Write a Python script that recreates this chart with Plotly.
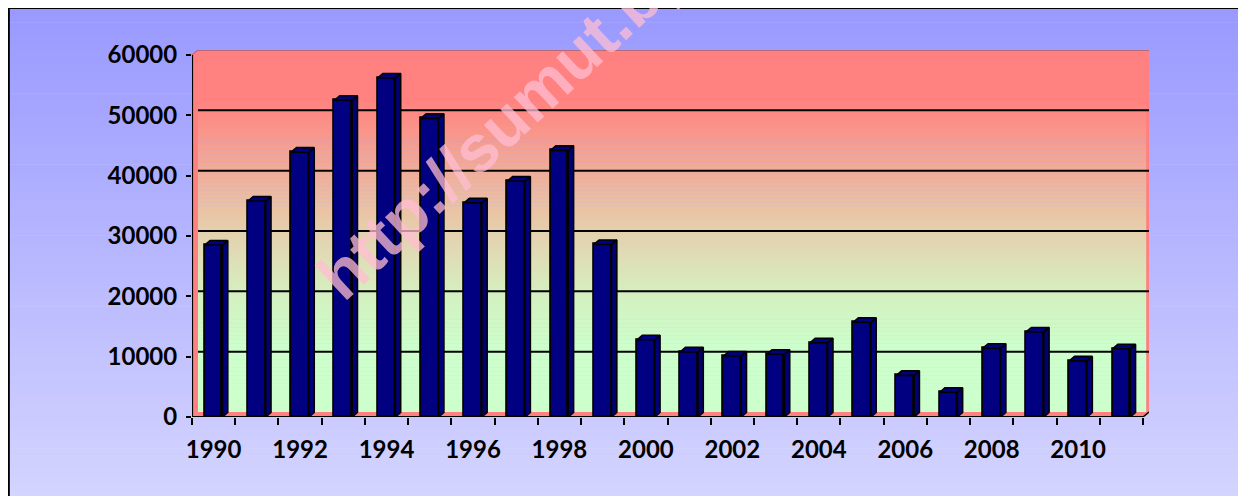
import plotly.graph_objects as go

# ---------------- data ----------------
years = list(range(1990, 2012))
values = [28500, 35800, 43900, 52500, 56200, 49500, 35500, 39100, 44200, 28600,
          12800, 10800, 10100, 10400, 12300, 15700, 6900, 4100, 11400, 14100, 9300, 11300]
y_ticks = [0, 10000, 20000, 30000, 40000, 50000, 60000]
x_label_years = list(range(1990, 2011, 2))
watermark = "http://sumut.bps.go.id"

# ---------------- geometry ----------------
# The page body has an 8px margin, so the figure is 8px smaller and
# every reference pixel position is measured in page coordinates.
OFF = 8
W, H = 1246 - OFF, 496 - OFF
PLOT_L, PLOT_R, PLOT_T, PLOT_B = 192, 1149.5, 50, 417   # page px
ML, MT = PLOT_L - OFF, PLOT_T - OFF
MR = W - (PLOT_R - OFF)
MB = H - (PLOT_B - OFF)
PW = PLOT_R - PLOT_L
PH = PLOT_B - PLOT_T
X0, X1 = 1989.5, 2011.5   # front axis extent
px_per_cat = 43.26
DX = 6 / px_per_cat       # 3D depth in x units
YMAX_FRONT = 60000
DY = 5 * (YMAX_FRONT / 362.0)  # 3D depth in y units
XR = [X0, X1 + DX]
YR = [0, YMAX_FRONT + DY]
BW = 0.41                 # bar width
BDX = 5.3 / px_per_cat
BDY = 4.5 * (YMAX_FRONT / 362.0)

def px2paper(px, py):
    return (px - PLOT_L) / PW, (PLOT_B - py) / PH

def y2px(v):
    return PLOT_B - PH * v / YR[1]

def lerp(c1, c2, t):
    return tuple(round(a + (b - a) * t) for a, b in zip(c1, c2))

def grad(stops, p):
    if p <= stops[0][0]:
        return stops[0][1]
    for (p1, c1), (p2, c2) in zip(stops, stops[1:]):
        if p <= p2:
            return lerp(c1, c2, (p - p1) / (p2 - p1))
    return stops[-1][1]

shapes = []

# outer background gradient
outer_stops = [(8, (153, 153, 255)), (496, (212, 212, 255))]
N = 70
top_px, bot_px = 8, 505
for i in range(N):
    a = top_px + (bot_px - top_px) * i / N
    b = top_px + (bot_px - top_px) * (i + 1) / N + 0.6
    c = grad(outer_stops, (a + b) / 2)
    x0p, y0p = px2paper(8.5, a)
    x1p, y1p = px2paper(1243, b)
    shapes.append(dict(type="rect", xref="paper", yref="paper", x0=x0p, x1=x1p, y0=y1p, y1=y0p,
                       fillcolor="rgb(%d,%d,%d)" % c, line=dict(width=0), layer="below"))
# outer frame
fx0, fy0 = px2paper(8.5, 7.8)
fx1, fy1 = px2paper(1243, 520)
shapes.append(dict(type="rect", xref="paper", yref="paper", x0=fx0, x1=fx1, y0=fy1, y1=fy0,
                   fillcolor="rgba(0,0,0,0)", line=dict(color="black", width=2.5), layer="below"))

# back wall gradient (data coords)
wall_stops = [(51, (255, 128, 128)), (100, (255, 130, 128)), (170, (242, 172, 150)),
              (235, (228, 210, 175)), (295, (212, 240, 192)), (350, (204, 255, 204)),
              (420, (204, 255, 204))]
NW = 90
for i in range(NW):
    v0 = DY + (YMAX_FRONT) * i / NW
    v1 = DY + (YMAX_FRONT) * (i + 1) / NW
    c = grad(wall_stops, y2px((v0 + v1) / 2))
    shapes.append(dict(type="rect", xref="x", yref="y", x0=X0 + DX, x1=X1 + DX,
                       y0=v0, y1=v1 + 60, fillcolor="rgb(%d,%d,%d)" % c,
                       line=dict(width=0), layer="below"))

pink = "#ff8080"
# left side wall
shapes.append(dict(type="path", xref="x", yref="y", layer="below",
                   path=f"M {X0},0 L {X0},{YMAX_FRONT} L {X0+DX},{YMAX_FRONT+DY} L {X0+DX},{DY} Z",
                   fillcolor=pink, line=dict(width=0)))
# floor
shapes.append(dict(type="path", xref="x", yref="y", layer="below",
                   path=f"M {X0},0 L {X1},0 L {X1+DX},{DY} L {X0+DX},{DY} Z",
                   fillcolor=pink, line=dict(width=0)))
# right edge of back wall
shapes.append(dict(type="line", xref="x", yref="y", layer="below",
                   x0=X1 + DX - 0.03, x1=X1 + DX - 0.03, y0=DY, y1=YMAX_FRONT + DY,
                   line=dict(color=pink, width=3)))
# top edge of back wall
shapes.append(dict(type="line", xref="x", yref="y", layer="below",
                   x0=X0 + DX, x1=X1 + DX, y0=YMAX_FRONT + DY - 80, y1=YMAX_FRONT + DY - 80,
                   line=dict(color="#b86a78", width=1.2)))
# gridlines on back wall
for v in y_ticks[1:-1]:
    shapes.append(dict(type="line", xref="x", yref="y", layer="below",
                       x0=X0 + DX, x1=X1 + DX, y0=v + DY, y1=v + DY,
                       line=dict(color="black", width=2)))
# axis lines
shapes.append(dict(type="line", xref="x", yref="y", layer="below",
                   x0=X0, x1=X0, y0=0, y1=YMAX_FRONT, line=dict(color="black", width=2.2)))
shapes.append(dict(type="line", xref="x", yref="y", layer="below",
                   x0=X0, x1=X0 + DX, y0=YMAX_FRONT, y1=YMAX_FRONT + DY,
                   line=dict(color="#c05060", width=1)))
shapes.append(dict(type="line", xref="x", yref="y", layer="below",
                   x0=X0, x1=X1, y0=0, y1=0, line=dict(color="black", width=2.2)))
shapes.append(dict(type="line", xref="x", yref="y", layer="below",
                   x0=X1, x1=X1 + DX, y0=0, y1=DY, line=dict(color="black", width=1.5)))

fig = go.Figure()

# bar side and top faces (3D effect) built from the values
sx, sy, tx, ty = [], [], [], []
for x, v in zip(years, values):
    r = x + BW / 2
    l = x - BW / 2
    sx += [r, r + BDX, r + BDX, r, r, None]
    sy += [0, BDY, v + BDY, v, 0, None]
    tx += [l, l + BDX, r + BDX, r, l, None]
    ty += [v, v + BDY, v + BDY, v, v, None]

fig.add_trace(go.Bar(x=years, y=values, width=BW, marker=dict(color="#000080",
                     line=dict(color="black", width=1.8)), hoverinfo="skip", showlegend=False))
fig.add_trace(go.Scatter(x=sx, y=sy, mode="lines", fill="toself", fillcolor="#000078",
                         line=dict(color="black", width=1.6), hoverinfo="skip", showlegend=False))
fig.add_trace(go.Scatter(x=tx, y=ty, mode="lines", fill="toself", fillcolor="#000080",
                         line=dict(color="black", width=1.6), hoverinfo="skip", showlegend=False))

font_lbl = dict(family="Lato", size=24, color="black", weight="bold")
wm_x, wm_y = px2paper(582, 50)

fig.update_layout(
    width=W, height=H, autosize=False,
    margin=dict(l=ML, r=MR, t=MT, b=MB, pad=0),
    paper_bgcolor="white", plot_bgcolor="rgba(0,0,0,0)",
    shapes=shapes, bargap=0,
    xaxis=dict(range=XR, tickmode="array", tickvals=x_label_years,
               ticktext=[str(y) for y in x_label_years], ticks="", showgrid=False,
               zeroline=False, showline=False, tickfont=font_lbl, ticklabelstandoff=16,
               minor=dict(tickmode="array", tickvals=[X0 + i for i in range(len(years) + 1)],
                          ticks="outside", ticklen=7, tickwidth=2, tickcolor="black", showgrid=False)),
    yaxis=dict(range=YR, tickmode="array", tickvals=y_ticks, ticktext=[str(v) for v in y_ticks],
               ticks="outside", ticklen=5, tickwidth=2, tickcolor="black", showgrid=False,
               zeroline=False, showline=False, tickfont=font_lbl, ticklabelstandoff=4),
    annotations=[dict(text=watermark, xref="paper", yref="paper",
                      x=wm_x, y=wm_y, xanchor="center",
                      yanchor="middle", showarrow=False, textangle=-43,
                      font=dict(family="Liberation Sans", size=66, weight="bold",
                                color="rgba(255,190,210,0.75)"))],
)

fig.write_html("out.html")
